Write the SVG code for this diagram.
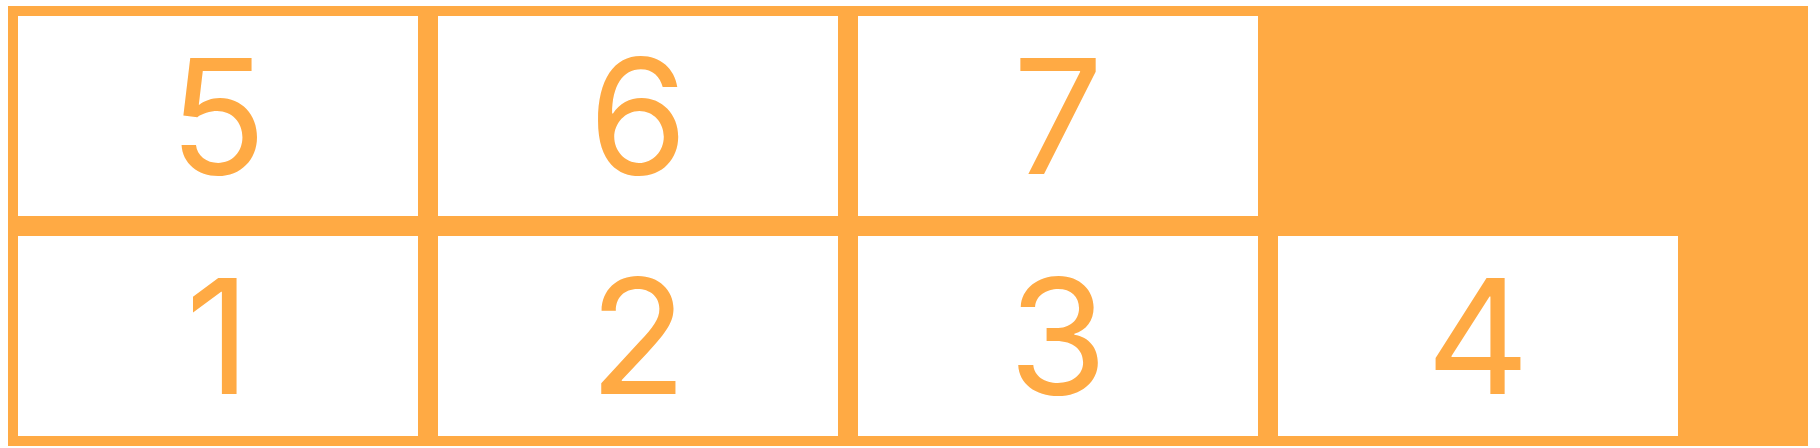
<svg xmlns="http://www.w3.org/2000/svg" width="1820" height="448" viewBox="0 0 1820 448">
<style>
.cell{fill:#ffffff}
.lbl{font-family:Inter,"Liberation Sans",Arial,sans-serif;font-size:160px;fill:#ffaa44;text-anchor:middle}
</style>
<rect width="1820" height="448" fill="#ffffff"/>
<rect id="container" x="8" y="6" width="1800" height="440" fill="#ffaa44"/>
<g id="item5"><rect class="cell" x="18" y="16" width="400" height="200"/><text class="lbl" x="218" y="174">5</text></g>
<g id="item6"><rect class="cell" x="438" y="16" width="400" height="200"/><text class="lbl" x="638" y="174">6</text></g>
<g id="item7"><rect class="cell" x="858" y="16" width="400" height="200"/><text class="lbl" x="1058" y="174">7</text></g>
<g id="item1"><rect class="cell" x="18" y="236" width="400" height="200"/><text class="lbl" x="218" y="394">1</text></g>
<g id="item2"><rect class="cell" x="438" y="236" width="400" height="200"/><text class="lbl" x="638" y="394">2</text></g>
<g id="item3"><rect class="cell" x="858" y="236" width="400" height="200"/><text class="lbl" x="1058" y="394">3</text></g>
<g id="item4"><rect class="cell" x="1278" y="236" width="400" height="200"/><text class="lbl" x="1478" y="394">4</text></g>
<g id="connectors"/>
</svg>
